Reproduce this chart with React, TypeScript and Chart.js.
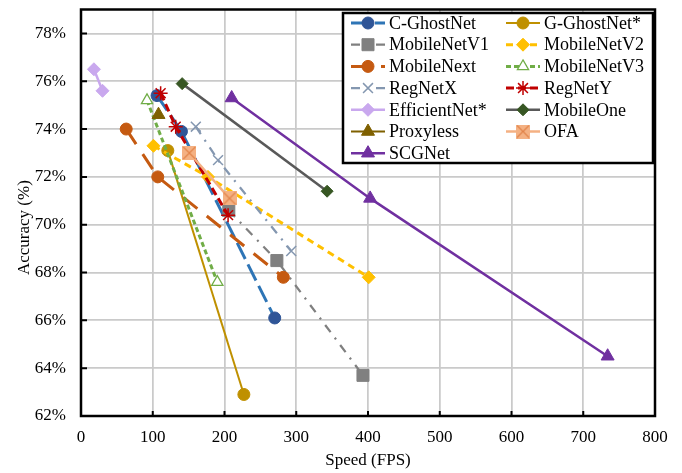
import React, { useEffect, useRef } from 'react';
import { Chart, registerables } from 'chart.js';
import { drawPoint } from 'chart.js/helpers';

Chart.register(...registerables);

// ---- data ----
const seriesNames = [
  'C-GhostNet', 'G-GhostNet*', 'MobileNetV1', 'MobileNetV2', 'MobileNext', 'MobileNetV3',
  'RegNetX', 'RegNetY', 'EfficientNet*', 'MobileOne', 'Proxyless', 'OFA', 'SCGNet',
];

const cGhostNetFps = [106, 140, 270];
const cGhostNetAcc = [75.4, 73.9, 66.1];
const gGhostNetFps = [121, 227];
const gGhostNetAcc = [73.1, 62.9];
const mobileNetV1Fps = [206, 273, 393];
const mobileNetV1Acc = [70.6, 68.5, 63.7];
const mobileNetV2Fps = [101, 177, 401];
const mobileNetV2Acc = [73.3, 72.0, 67.8];
const mobileNextFps = [63, 107, 282];
const mobileNextAcc = [74.0, 72.0, 67.8];
const mobileNetV3Fps = [92, 190];
const mobileNetV3Acc = [75.2, 67.6];
const regNetXFps = [160, 191, 293];
const regNetXAcc = [74.1, 72.7, 68.9];
const regNetYFps = [111, 132, 205];
const regNetYAcc = [75.5, 74.1, 70.4];
const efficientNetFps = [18, 30];
const efficientNetAcc = [76.5, 75.6];
const mobileOneFps = [141, 343];
const mobileOneAcc = [75.9, 71.4];
const proxylessFps = [108];
const proxylessAcc = [74.6];
const ofaFps = [151, 207];
const ofaAcc = [73.0, 71.1];
const scgNetFps = [210, 403, 734];
const scgNetAcc = [75.3, 71.1, 64.5];

const xTickValues = [0, 100, 200, 300, 400, 500, 600, 700, 800];
const yTickValues = [62, 64, 66, 68, 70, 72, 74, 76, 78];

const seriesFps = [cGhostNetFps, gGhostNetFps, mobileNetV1Fps, mobileNetV2Fps, mobileNextFps, mobileNetV3Fps,
  regNetXFps, regNetYFps, efficientNetFps, mobileOneFps, proxylessFps, ofaFps, scgNetFps];
const seriesAcc = [cGhostNetAcc, gGhostNetAcc, mobileNetV1Acc, mobileNetV2Acc, mobileNextAcc, mobileNetV3Acc,
  regNetXAcc, regNetYAcc, efficientNetAcc, mobileOneAcc, proxylessAcc, ofaAcc, scgNetAcc];

const FONT = "'Liberation Serif', 'Times New Roman', serif";

function makeOfaMarker(): HTMLCanvasElement {
  const c = document.createElement('canvas');
  c.width = 14;
  c.height = 14;
  const g = c.getContext('2d')!;
  g.fillStyle = '#F4B183';
  g.fillRect(0, 0, 14, 14);
  g.strokeStyle = '#E2844A';
  g.lineWidth = 1.2;
  g.beginPath();
  g.moveTo(1, 1); g.lineTo(13, 13);
  g.moveTo(13, 1); g.lineTo(1, 13);
  g.stroke();
  return c;
}

export default function App() {
  const ref = useRef<HTMLCanvasElement | null>(null);

  useEffect(() => {
    document.body.style.margin = '0';
    const ofaMarker = makeOfaMarker();
    const styles: any[] = [
      { line: '#2E75B6', fill: '#2F5597', stroke: '#2F5597', dash: [18, 6], width: 3, point: 'circle', r: 6, bw: 1 },
      { line: '#BF9000', fill: '#BF9000', stroke: '#BF9000', dash: [], width: 2, point: 'circle', r: 6, bw: 1 },
      { line: '#808080', fill: '#808080', stroke: '#808080', dash: [9, 7, 2, 7], width: 2.25, point: 'rect', r: 8.5, bw: 1 },
      { line: '#FFC000', fill: '#FFC000', stroke: '#FFC000', dash: [7, 5], width: 3, point: 'rectRot', r: 6.5, bw: 1 },
      { line: '#C55A11', fill: '#C55A11', stroke: '#C55A11', dash: [18, 12], width: 3, point: 'circle', r: 6, bw: 1 },
      { line: '#70AD47', fill: '#FFFFFF', stroke: '#70AD47', dash: [5, 3], width: 3, point: 'triangle', r: 6.5, bw: 1.25 },
      { line: '#8497B0', fill: 'rgba(0,0,0,0)', stroke: '#8497B0', dash: [9, 7, 2, 7], width: 2.25, point: 'crossRot', r: 7, bw: 1.5 },
      { line: '#C00000', fill: '#C00000', stroke: '#C00000', dash: [8, 4], width: 3, point: 'star', r: 7, bw: 1.5 },
      { line: '#C9A8EE', fill: '#C9A8EE', stroke: '#C9A8EE', dash: [], width: 2.5, point: 'rectRot', r: 6.5, bw: 1 },
      { line: '#595959', fill: '#375623', stroke: '#375623', dash: [], width: 2.5, point: 'rectRot', r: 6, bw: 1 },
      { line: '#7F6000', fill: '#7F6000', stroke: '#7F6000', dash: [], width: 2, point: 'triangle', r: 7.5, bw: 1 },
      { line: '#F4B183', fill: '#F4B183', stroke: '#F4B183', dash: [], width: 2.5, point: ofaMarker, r: 7, bw: 1 },
      { line: '#7030A0', fill: '#7030A0', stroke: '#7030A0', dash: [], width: 2.5, point: 'triangle', r: 7.5, bw: 1 },
    ];

    const datasets = seriesNames.map((name, i) => {
      const s = styles[i];
      return {
        label: name,
        data: seriesFps[i].map((x, k) => ({ x, y: seriesAcc[i][k] })),
        showLine: true,
        borderColor: s.line,
        borderWidth: s.width,
        borderDash: s.dash,
        pointStyle: s.point,
        pointRadius: s.r,
        pointHoverRadius: s.r,
        pointBackgroundColor: s.fill,
        pointBorderColor: s.stroke,
        pointBorderWidth: s.bw,
        order: seriesNames.length - i,
        tension: 0,
      };
    });

    const framePlugin = {
      id: 'frame',
      beforeDatasetsDraw(chart: any) {
        const { ctx, chartArea: a, scales } = chart;
        ctx.save();
        ctx.strokeStyle = '#000';
        ctx.lineWidth = 2.5;
        ctx.strokeRect(a.left, a.top, a.right - a.left, a.bottom - a.top);
        ctx.lineWidth = 2;
        ctx.beginPath();
        yTickValues.forEach((v) => {
          const y = scales.y.getPixelForValue(v);
          ctx.moveTo(a.left, y);
          ctx.lineTo(a.left + 6, y);
        });
        xTickValues.forEach((v) => {
          const x = scales.x.getPixelForValue(v);
          ctx.moveTo(x, a.bottom);
          ctx.lineTo(x, a.bottom - 5);
        });
        ctx.stroke();
        ctx.restore();
      },
    };

    const legendPlugin = {
      id: 'boxLegend',
      afterDatasetsDraw(chart: any) {
        const { ctx } = chart;
        ctx.save();
        const bx = 343, by = 13, bw = 310, bh = 150;
        ctx.fillStyle = '#fff';
        ctx.fillRect(bx, by, bw, bh);
        ctx.strokeStyle = '#000';
        ctx.lineWidth = 2.5;
        ctx.strokeRect(bx, by, bw, bh);
        ctx.font = `18px ${FONT}`;
        ctx.textBaseline = 'middle';
        ctx.textAlign = 'left';
        seriesNames.forEach((name, i) => {
          const s = styles[i];
          const col = i % 2;
          const row = Math.floor(i / 2);
          const y = 23 + row * 21.7;
          const x1 = col === 0 ? 351 : 506;
          const x2 = x1 + 34;
          const mx = (x1 + x2) / 2;
          ctx.save();
          ctx.strokeStyle = s.line;
          ctx.lineWidth = s.width;
          ctx.setLineDash(s.dash);
          ctx.beginPath();
          ctx.moveTo(x1, y);
          ctx.lineTo(x2, y);
          ctx.stroke();
          ctx.setLineDash([]);
          ctx.fillStyle = s.fill;
          ctx.strokeStyle = s.stroke;
          ctx.lineWidth = s.bw;
          drawPoint(ctx, { pointStyle: s.point, radius: s.r, borderWidth: s.bw, rotation: 0 } as any, mx, y);
          ctx.restore();
          ctx.fillStyle = '#000';
          ctx.fillText(name, x2 + 4, y + 1);
        });
        ctx.restore();
      },
    };

    const chart = new Chart(ref.current!, {
      type: 'scatter',
      data: { datasets: datasets as any },
      options: {
        responsive: false,
        animation: false,
        devicePixelRatio: 1,
        layout: { padding: { top: 7, right: 27, left: 0, bottom: 0 } },
        plugins: { legend: { display: false }, tooltip: { enabled: false } },
        scales: {
          x: {
            type: 'linear',
            min: 0,
            max: 800,
            afterBuildTicks: (s: any) => { s.ticks = xTickValues.map((v) => ({ value: v })); },
            afterFit: (s: any) => { s.height = 57; s.paddingLeft = 0; s.paddingRight = 0; },
            ticks: { color: '#000', font: { family: FONT, size: 17 }, padding: 11, maxRotation: 0 },
            grid: { color: '#cacaca', lineWidth: 1.75, drawTicks: false },
            border: { display: false },
            title: { display: true, text: 'Speed (FPS)', color: '#000', font: { family: FONT, size: 17 }, padding: { top: 0, bottom: 2 } },
          },
          y: {
            type: 'linear',
            min: 62,
            max: 79,
            afterBuildTicks: (s: any) => { s.ticks = yTickValues.map((v) => ({ value: v })); },
            afterFit: (s: any) => { s.width = 81; s.paddingTop = 0; s.paddingBottom = 0; },
            ticks: { color: '#000', font: { family: FONT, size: 17 }, padding: 15, callback: (v: any) => `${v}%` },
            grid: { color: '#cacaca', lineWidth: 1.75, drawTicks: false },
            border: { display: false },
            title: { display: true, text: 'Accuracy (%)       ', color: '#000', font: { family: FONT, size: 17 }, padding: { top: 14, bottom: 0 } },
          },
        },
      },
      plugins: [framePlugin, legendPlugin],
    });
    return () => chart.destroy();
  }, []);

  return (
    <div style={{ width: 682, height: 473 }}>
      <canvas ref={ref} width={682} height={473} />
    </div>
  );
}
